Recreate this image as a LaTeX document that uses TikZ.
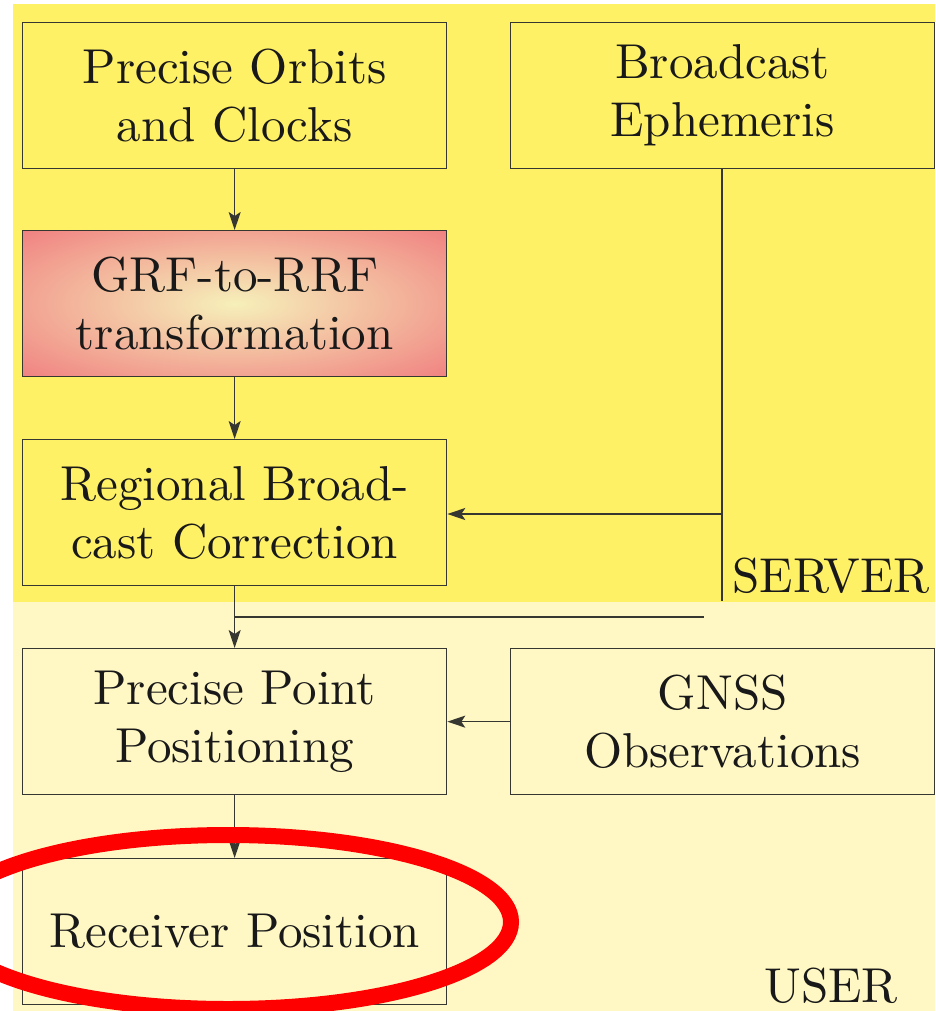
\documentclass[tikz,border=0pt]{standalone}
\usepackage{fontspec}
\newfontfamily\bigrm{lmroman10-regular.otf}
\usetikzlibrary{arrows.meta}
\definecolor{srvbg}{RGB}{255,241,102}
\definecolor{usrbg}{RGB}{255,248,196}
\definecolor{ln}{RGB}{55,55,50}
\definecolor{grfin}{RGB}{246,240,186}
\definecolor{grfout}{RGB}{240,128,128}
\pgfdeclareradialshading{grfshade}{\pgfpoint{0bp}{0bp}}{color(0bp)=(grfin); color(36bp)=(grfout); color(50bp)=(grfout)}
\begin{document}
\begin{tikzpicture}[x=1pt,y=-1pt,
  box/.style={draw=ln, line width=1.3pt, minimum width=424pt, minimum height=146pt,
    inner sep=0pt, align=center, font=\bigrm\fontsize{49}{58}\selectfont, anchor=north west, text=black!90},
  lbl/.style={inner sep=0pt, font=\bigrm\fontsize{49}{58}\selectfont, text=black!90},
  conn/.style={draw=ln, line width=1.3pt},
  arr/.style={conn, -{Stealth[length=18pt,width=12pt,inset=4pt]}}]
\useasboundingbox (0,0) rectangle (935,1011);
\clip (0,0) rectangle (935,1011);
% backgrounds
\fill[srvbg] (13,4) rectangle (935,602);
\fill[usrbg] (13,602) rectangle (935,1011);
% boxes
\node[box] (poc) at (22,22) {Precise Orbits\\and Clocks};
\node[box] (be) at (510,22) {Broadcast\\Ephemeris};
\node[box, shading=grfshade] (grf) at (22,230) {GRF-to-RRF\\transformation};
\node[box] (rbc) at (22,439) {Regional Broad-\\cast Correction};
\node[box] (ppp) at (22,648) {Precise Point\\Positioning};
\node[box] (gnss) at (510,648) {GNSS\\Observations};
\node[box] (rp) at (22,858) {Receiver Position};
% labels
\node[lbl, anchor=base east] (srv) at (930,592) {SERVER};
\node[lbl, anchor=base east] (usr) at (898,1002) {USER};
% coordinates
\coordinate (beend) at (722,601);
\coordinate (bejoin) at (722,514);
\coordinate (tap) at (234,617);
\coordinate (tapend) at (704,617);
% connectors
\draw[arr] (poc.south) -- (grf.north);
\draw[arr] (grf.south) -- (rbc.north);
\draw[conn] (be.south -| bejoin) -- (beend);
\draw[arr] (bejoin) -- (bejoin -| rbc.east);
\draw[arr] (rbc.south) -- (ppp.north);
\draw[conn] (tap) -- (tapend);
\draw[arr] (gnss.west) -- (ppp.east);
\draw[arr] (ppp.south) -- (rp.north);
% highlight
\draw[red, line width=16pt] (228,922) ellipse [x radius=283, y radius=87];
\end{tikzpicture}
\end{document}
